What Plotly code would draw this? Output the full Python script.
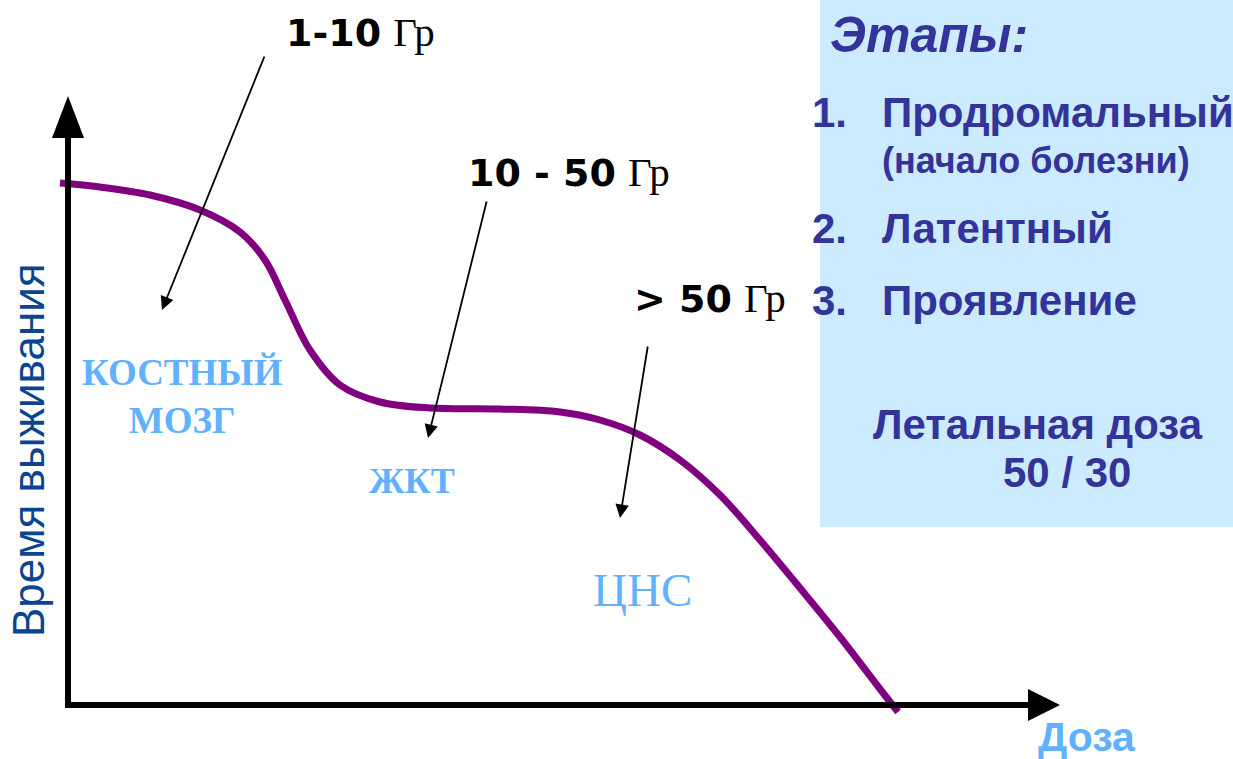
import plotly.graph_objects as go

# ---- data (arbitrary units: dose along x, survival time along y) ----
dose = [-8, 32, 82, 132, 172, 197, 217, 242, 272, 312, 362, 432, 492, 532, 572, 612, 652, 692, 732, 772, 812, 830]
survival = [522, 518, 510, 495, 473, 445, 405, 355, 320, 303, 297, 296, 293, 285, 270, 245, 210, 165, 117, 68, 16, -7]

dose_ranges = ["1-10", "10 - 50", "> 50"]
organs = ["КОСТНЫЙ<br>МОЗГ", "ЖКТ", "ЦНС"]
stages = ["Продромальный", "Латентный", "Проявление"]

W, H = 1233, 759
OX, OY = 68, 705  # origin in pixels


def P(px, py):
    return px - OX, OY - py


fig = go.Figure()

# background box
fig.add_shape(type="rect", xref="paper", yref="paper", x0=820 / W, x1=1.0, y0=1 - 527 / H, y1=1.0,
              fillcolor="#CCEBFE", line_width=0, layer="below")

# axes lines
x0, y0 = P(68, 705)
_, ytop = P(68, 130)
xr, _ = P(1035, 705)
fig.add_shape(type="line", x0=x0, y0=y0, x1=x0, y1=ytop, line=dict(color="black", width=6))
fig.add_shape(type="line", x0=x0 - 3, y0=y0, x1=xr, y1=y0, line=dict(color="black", width=6))
# arrowheads
ax1, ay1 = P(52, 138); ax2, ay2 = P(84, 138); ax3, ay3 = P(68, 96)
fig.add_shape(type="path", path=f"M {ax1} {ay1} L {ax2} {ay2} L {ax3} {ay3} Z", fillcolor="black", line_width=0)
bx1, by1 = P(1028, 689); bx2, by2 = P(1028, 721); bx3, by3 = P(1060, 705)
fig.add_shape(type="path", path=f"M {bx1} {by1} L {bx2} {by2} L {bx3} {by3} Z", fillcolor="black", line_width=0)

# curve
fig.add_trace(go.Scatter(x=dose, y=survival, mode="lines", line=dict(color="#800080", width=7, shape="spline"),
                         hoverinfo="skip", showlegend=False))

annots = []

# pointer arrows
arrow_specs = [((162, 310), (265, 55)), ((428, 438), (487, 200)), ((620, 518), (648, 345))]
for (tip, tail) in arrow_specs:
    tx, ty = P(*tip)
    sx, sy = P(*tail)
    annots.append(dict(x=tx, y=ty, ax=sx, ay=sy, xref="x", yref="y", axref="x", ayref="y", text="",
                       showarrow=True, arrowhead=2, arrowsize=1.5, arrowwidth=1.8, arrowcolor="black", standoff=0,
                       startstandoff=0))

# dose labels
dose_pos = [(284, 32), (466, 172), (632, 298)]
for lbl, (px, py) in zip(dose_ranges, dose_pos):
    x, y = P(px, py)
    annots.append(dict(x=x, y=y, xref="x", yref="y", xanchor="left", yanchor="middle", showarrow=False,
                       text=f"<b>{lbl}</b> <span style='font-family:Liberation Serif;font-weight:normal;font-size:41px'>Гр</span>",
                       font=dict(family="DejaVu Sans", size=38, color="black")))

# organ labels
organ_pos = [(182, 396), (412, 481), (642, 590)]
organ_font = [dict(size=37, bold=True), dict(size=36, bold=True), dict(size=47, bold=False)]
for lbl, (px, py), f in zip(organs, organ_pos, organ_font):
    x, y = P(px, py)
    t = f"<b>{lbl}</b>" if f["bold"] else lbl
    annots.append(dict(x=x, y=y, xref="x", yref="y", xanchor="center", yanchor="middle", showarrow=False,
                       text=t, font=dict(family="Liberation Serif", size=f["size"], color="#62B1FF")))

# axis titles
x, y = P(28, 450)
annots.append(dict(x=x, y=y, xref="x", yref="y", textangle=-90, showarrow=False, xanchor="center",
                   yanchor="middle", text="Время выживания",
                   font=dict(family="Liberation Sans", size=44, color="#0B4590")))
x, y = P(1087, 737)
annots.append(dict(x=x, y=y, xref="x", yref="y", showarrow=False, xanchor="center", yanchor="middle",
                   text="<b>Доза</b>", font=dict(family="Liberation Sans", size=41, color="#62B1FF")))

# right panel
blue = "#333399"
x, y = P(828, 35)
annots.append(dict(x=x, y=y, xref="x", yref="y", showarrow=False, xanchor="left", yanchor="middle",
                   text="<b><i>Этапы:</i></b>", font=dict(family="Liberation Sans", size=50, color=blue)))
stage_y = [112, 228, 300]
for i, (s, py) in enumerate(zip(stages, stage_y)):
    x, y = P(810, py)
    annots.append(dict(x=x, y=y, xref="x", yref="y", showarrow=False, xanchor="left", yanchor="middle",
                       text=f"<b>{i + 1}.</b>", font=dict(family="Liberation Sans", size=42, color=blue)))
    x, y = P(880, py)
    annots.append(dict(x=x, y=y, xref="x", yref="y", showarrow=False, xanchor="left", yanchor="middle",
                       text=f"<b>{s}</b>", font=dict(family="Liberation Sans", size=42, color=blue)))
x, y = P(880, 160)
annots.append(dict(x=x, y=y, xref="x", yref="y", showarrow=False, xanchor="left", yanchor="middle",
                   text="<b>(начало болезни)</b>", font=dict(family="Liberation Sans", size=36, color=blue)))
x, y = P(1038, 424)
annots.append(dict(x=x, y=y, xref="x", yref="y", showarrow=False, xanchor="center", yanchor="middle",
                   text="<b>Летальная доза</b>", font=dict(family="Liberation Sans", size=42, color=blue)))
x, y = P(1067, 472)
annots.append(dict(x=x, y=y, xref="x", yref="y", showarrow=False, xanchor="center", yanchor="middle",
                   text="<b>50 / 30</b>", font=dict(family="Liberation Sans", size=42, color=blue)))

fig.update_layout(
    width=W, height=H, margin=dict(l=0, r=0, t=0, b=0),
    paper_bgcolor="white", plot_bgcolor="rgba(0,0,0,0)",
    xaxis=dict(range=[-OX, W - OX], visible=False, fixedrange=True),
    yaxis=dict(range=[OY - H, OY], visible=False, fixedrange=True),
    annotations=annots, showlegend=False,
)

fig.write_html("out.html", config={"displayModeBar": False},
               post_script="document.body.style.margin='0';document.body.style.overflow='hidden';")
